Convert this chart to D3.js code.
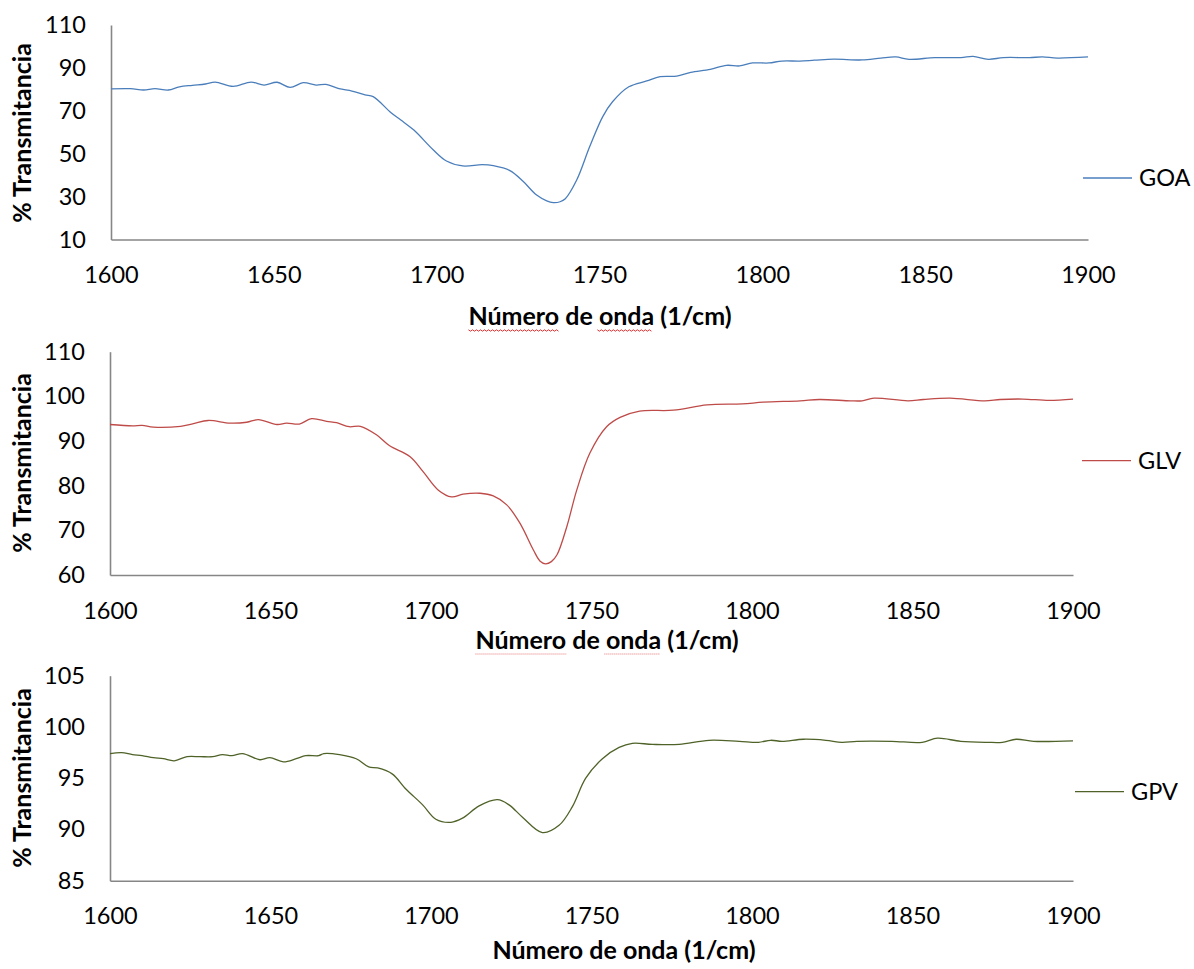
<!DOCTYPE html>
<html>
<head>
<meta charset="utf-8">
<script src="https://cdn.jsdelivr.net/npm/d3@7"></script>
<style>
  body { margin: 0; background: #fff; }
  text { font-family: Lato, "Open Sans", sans-serif; fill: #000; }
</style>
</head>
<body>
<div id="chart"></div>
<script>
// GOA
const goaX = [1600,1606,1610,1613.5,1617.6,1621,1625,1629,1632,1637.5,1643,1647,1651,1655,1659,1663,1666,1670,1674,1678,1680.5,1686,1689,1693,1699,1703,1708,1714,1717.4,1722.5,1726.6,1730.7,1733.8,1735.8,1737.9,1739.5,1743,1747,1751,1754,1759,1764.5,1768.6,1773.7,1778,1784,1789,1793,1797,1802,1806,1811.5,1816,1822,1830.6,1836.4,1841,1845,1853,1861,1864.7,1869.4,1874,1882,1886,1890.6,1900];
const goaY = [80.2,80.3,79.7,80.3,79.7,81.2,81.9,82.5,83.4,81.4,83.4,82.0,83.3,80.9,83.1,82.0,82.3,80.3,79.2,77.4,76.6,69.1,65.7,61.0,51.7,46.6,44.3,44.9,44.4,42.1,37.0,30.7,28.0,27.2,27.6,29.0,37.7,53.3,67.3,74.2,81.2,83.9,85.9,86.2,87.9,89.3,91.2,90.9,92.3,92.3,93.2,93.2,93.6,94.1,93.7,94.6,95.1,94.0,94.8,94.8,95.4,94.0,94.8,94.8,95.1,94.6,95.1];

// GLV
const glvX = [1600,1607,1610,1613.5,1622,1626,1630.6,1637.4,1642.6,1646.2,1652,1655,1659,1662.8,1667.5,1670.6,1674.5,1678,1683,1687,1693.5,1697.6,1702.3,1706.4,1710,1715.3,1719.4,1723.6,1727.7,1731.9,1734,1735.7,1737.5,1739.3,1742.3,1745.4,1749.5,1754.7,1758.9,1765,1775.5,1786,1797,1803.5,1815,1821,1830.7,1834.3,1838,1848.6,1853.4,1861.7,1872.5,1877.3,1884.4,1892.6,1900];
const glvY = [93.7,93.4,93.5,93.1,93.3,93.9,94.6,94.0,94.2,94.8,93.7,94.0,93.8,95.0,94.4,94.1,93.2,93.3,91.4,89.0,86.5,83.1,79.0,77.5,78.1,78.3,77.7,75.7,71.6,65.6,63.1,62.5,63.0,64.6,70.8,79.0,87.3,93.2,95.3,96.7,96.9,98.1,98.3,98.7,99.0,99.3,99.0,99.0,99.6,99.0,99.3,99.6,99.0,99.3,99.4,99.1,99.4];

// GPV
const gpvX = [1600,1603.6,1607,1610,1613.5,1616.6,1620,1624,1628,1632,1635,1638,1641.3,1646.7,1649.8,1654,1658,1661,1665,1666.6,1671.5,1676.7,1680.6,1683.4,1688,1692,1697.4,1701.5,1706.2,1709.8,1715,1720.7,1724.3,1728.5,1734.7,1739.9,1744,1748.2,1753.4,1758.6,1762.7,1769,1777.3,1786.6,1796,1802,1805.8,1809.4,1816,1823,1828,1832.7,1843.5,1853,1857.8,1865,1873.3,1878,1882.3,1887.7,1900];
const gpvY = [97.4,97.5,97.3,97.2,97.0,96.9,96.7,97.1,97.1,97.1,97.3,97.2,97.4,96.8,97.0,96.6,96.9,97.2,97.2,97.4,97.3,96.9,96.1,96.0,95.4,94.0,92.4,91.0,90.7,91.1,92.3,92.9,92.4,91.2,89.7,90.4,92.2,95.0,96.9,98.0,98.4,98.3,98.3,98.7,98.6,98.5,98.7,98.6,98.8,98.7,98.5,98.6,98.6,98.5,98.9,98.6,98.5,98.5,98.8,98.6,98.65];

const xTicks = [1600,1650,1700,1750,1800,1850,1900];
const xTitle = "Número de onda (1/cm)";
const yTitle = "% Transmitancia";

const width = 1194, height = 969;

const panels = [
  {name: "GOA", xs: goaX, ys: goaY, color: "#4a7ebb", yDomain: [10,110], yTicks: [10,30,50,70,90,110],
   left: 111, right: 1088, top: 25, bottom: 239.5, legX: 1083, legY: 178, titleX: 600, titleY: 325, yTitleY: 133, squiggle: "wave"},
  {name: "GLV", xs: glvX, ys: glvY, color: "#be4b48", yDomain: [60,110], yTicks: [60,70,80,90,100,110],
   left: 110, right: 1073, top: 351.7, bottom: 575, legX: 1082, legY: 460.7, titleX: 607, titleY: 649, yTitleY: 463, squiggle: "dot"},
  {name: "GPV", xs: gpvX, ys: gpvY, color: "#4f6228", yDomain: [85,105], yTicks: [85,90,95,100,105],
   left: 110, right: 1073, top: 675.7, bottom: 880.7, legX: 1075, legY: 791.7, titleX: 624, titleY: 959, yTitleY: 778, squiggle: null}
];

const svg = d3.select("#chart")
  .append("svg")
  .attr("width", width)
  .attr("height", height);

panels.forEach(p => {
  const x = d3.scaleLinear().domain([1600, 1900]).range([p.left, p.right]);
  const y = d3.scaleLinear().domain(p.yDomain).range([p.bottom, p.top]);

  const g = svg.append("g");

  // axes
  const xAxis = g.append("g")
    .attr("transform", `translate(0,${p.bottom})`)
    .call(d3.axisBottom(x).tickValues(xTicks).tickFormat(d3.format("d")).tickSize(0).tickPadding(27));
  const yAxis = g.append("g")
    .attr("transform", `translate(${p.left},0)`)
    .call(d3.axisLeft(y).tickValues(p.yTicks).tickFormat(d3.format("d")).tickSize(0).tickPadding(25));

  [xAxis, yAxis].forEach(a => {
    a.select(".domain").attr("stroke", "#868686").attr("stroke-width", 1.6);
    a.selectAll("text").attr("font-size", 23.5).attr("fill", "#000")
      .style("font-family", "Lato, 'Open Sans', sans-serif");
  });

  // line
  const data = p.xs.map((v, i) => ({x: v, y: p.ys[i]}));
  const line = d3.line()
    .x(d => x(d.x))
    .y(d => y(d.y))
    .curve(d3.curveCatmullRom.alpha(0.5));

  g.append("path")
    .datum(data)
    .attr("fill", "none")
    .attr("stroke", p.color)
    .attr("stroke-width", 1.3)
    .attr("d", line);

  // legend
  g.append("line")
    .attr("x1", p.legX).attr("x2", p.legX + 49)
    .attr("y1", p.legY).attr("y2", p.legY)
    .attr("stroke", p.color).attr("stroke-width", 1.3);
  g.append("text")
    .attr("x", p.legX + 56)
    .attr("y", p.legY)
    .attr("dy", "0.36em")
    .attr("font-size", 23.5)
    .text(p.name);

  // axis titles
  const xt = g.append("text")
    .attr("x", p.titleX)
    .attr("y", p.titleY)
    .attr("text-anchor", "middle")
    .attr("font-size", 25)
    .attr("font-weight", "bold")
    .text(xTitle);

  g.append("text")
    .attr("transform", `translate(31,${p.yTitleY}) rotate(-90)`)
    .attr("text-anchor", "middle")
    .attr("font-size", 25)
    .attr("font-weight", "bold")
    .text(yTitle);

  // spell-check underline marks under the x title
  if (p.squiggle) {
    const bb = xt.node().getBBox();
    const x0 = bb.x, uy = p.titleY + 5;
    const spans = [[x0, x0 + bb.width * 0.345], [x0 + bb.width * 0.49, x0 + bb.width * 0.70]];
    spans.forEach(s => {
      if (p.squiggle === "wave") {
        const pts = d3.range(s[0], s[1], 2).map((v, i) => [v, uy + (i % 2 ? 1.2 : -0.2)]);
        g.append("path")
          .attr("d", d3.line()(pts))
          .attr("fill", "none")
          .attr("stroke", "#e03030")
          .attr("stroke-width", 1);
      } else {
        g.append("line")
          .attr("x1", s[0]).attr("x2", s[1])
          .attr("y1", uy).attr("y2", uy)
          .attr("stroke", "#e05050")
          .attr("stroke-width", 0.8)
          .attr("stroke-dasharray", "1,1");
      }
    });
  }
});
</script>
</body>
</html>
